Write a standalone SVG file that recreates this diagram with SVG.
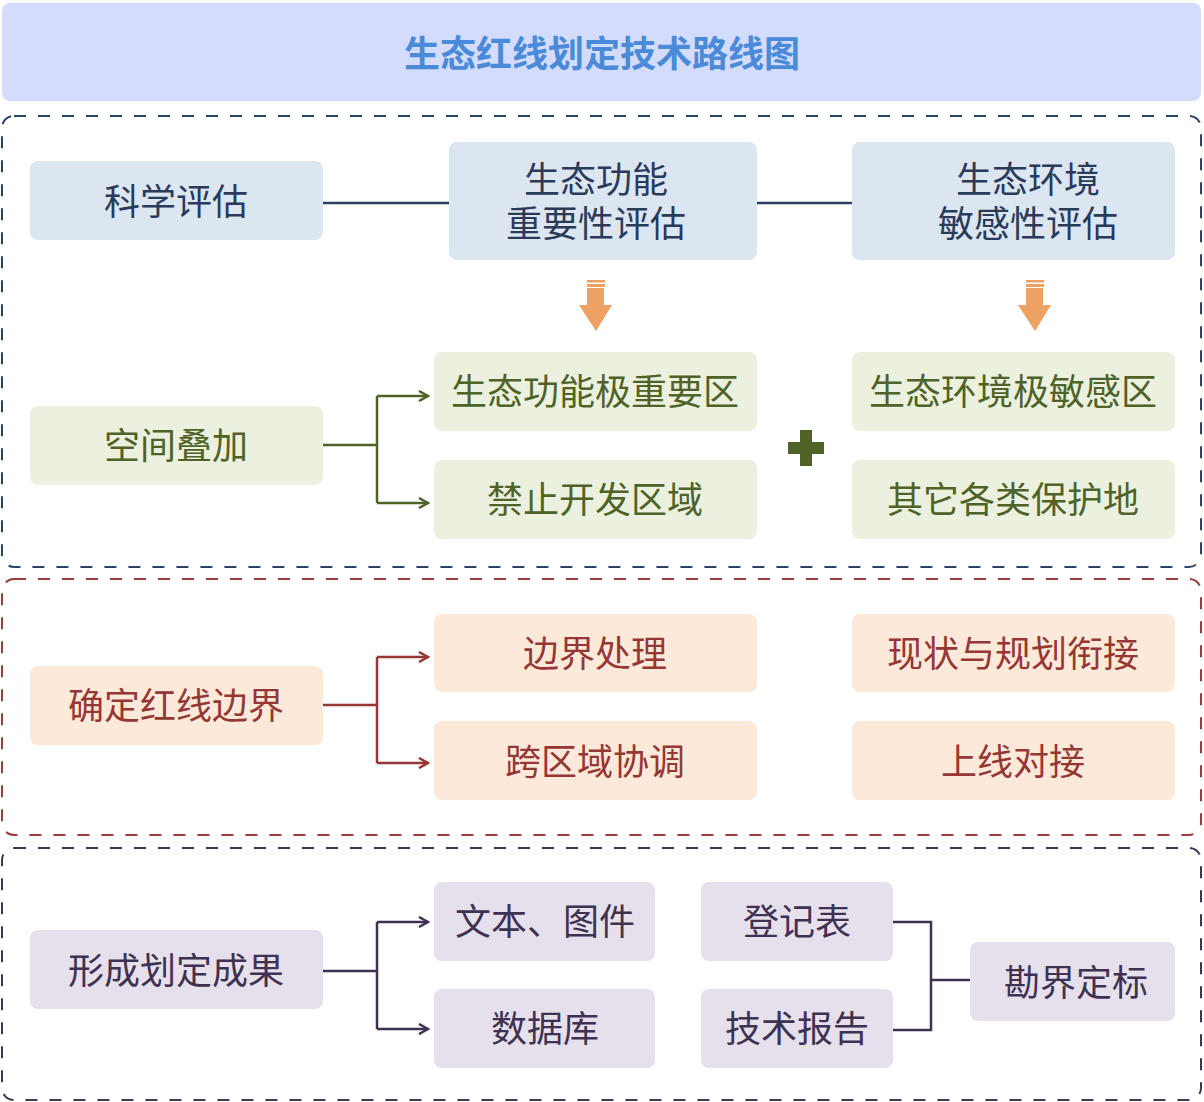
<svg xmlns="http://www.w3.org/2000/svg" width="1204" height="1102" viewBox="0 0 1204 1102">
<defs>
<style>
text{font-family:"Noto Sans CJK SC","Noto Sans CJK JP",sans-serif;font-size:36px;text-anchor:middle}
.title{font-size:36px;font-weight:bold;fill:#4a8ad8}
.blue rect{fill:#dce6f1}.blue text{fill:#2a3a5a}
.green rect{fill:#ebf1de}.green text{fill:#4f6228}
.red rect{fill:#fde9d9}.red text{fill:#953734}
.purple rect{fill:#e5e0ec}.purple text{fill:#3f3151}
.sec{fill:none;stroke-width:2;stroke-dasharray:12 12}
.c{fill:none;stroke-width:2.5}
</style>
<marker id="ag" viewBox="0 0 12 12" refX="10" refY="6" markerWidth="12" markerHeight="12" markerUnits="userSpaceOnUse" orient="auto"><path d="M1,1 L10,6 L1,11" fill="none" stroke="#4f6228" stroke-width="2.5"/></marker>
<marker id="ar" viewBox="0 0 12 12" refX="10" refY="6" markerWidth="12" markerHeight="12" markerUnits="userSpaceOnUse" orient="auto"><path d="M1,1 L10,6 L1,11" fill="none" stroke="#953734" stroke-width="2.5"/></marker>
<marker id="ap" viewBox="0 0 12 12" refX="10" refY="6" markerWidth="12" markerHeight="12" markerUnits="userSpaceOnUse" orient="auto"><path d="M1,1 L10,6 L1,11" fill="none" stroke="#3f3151" stroke-width="2.5"/></marker>
<g id="downArrow"><rect x="-9" y="0" width="18" height="2.5" fill="#eda165"/><rect x="-9" y="4" width="18" height="3" fill="#eda165"/><path d="M-9,8 H8 V25 H16 L0,51 L-17,25 H-9 Z" fill="#eda165"/></g>
</defs>
<rect width="1204" height="1102" fill="#fff"/>
<g id="title"><rect x="2" y="3" width="1199" height="98" rx="8" fill="#d3dcfd"/><text class="title" x="602" y="67">生态红线划定技术路线图</text></g>
<g id="sections">
<rect class="sec" x="2" y="116" width="1199" height="451" rx="12" stroke="#2e4466"/>
<rect class="sec" x="2" y="579" width="1199" height="256" rx="12" stroke="#9b3b3b"/>
<rect class="sec" x="2" y="848" width="1199" height="252" rx="12" stroke="#3b3a55"/>
</g>
<g id="connectors">
<path class="c" d="M323,203 H449 M757,203 H852" stroke="#2e3f5e" stroke-width="2"/>
<path class="c" d="M323,445 H377" stroke="#4f6228"/>
<path class="c" d="M377,396 V503" stroke="#4f6228"/>
<path class="c" d="M377,396 H428" stroke="#4f6228" marker-end="url(#ag)"/>
<path class="c" d="M377,503 H428" stroke="#4f6228" marker-end="url(#ag)"/>
<path class="c" d="M323,705 H377 M377,657 V763" stroke="#953734" stroke-width="2"/>
<path class="c" d="M377,657 H428" stroke="#953734" stroke-width="2" marker-end="url(#ar)"/>
<path class="c" d="M377,763 H428" stroke="#953734" stroke-width="2" marker-end="url(#ar)"/>
<path class="c" d="M323,971 H377 M377,922 V1029" stroke="#3f3151" stroke-width="2"/>
<path class="c" d="M377,922 H428" stroke="#3f3151" stroke-width="2" marker-end="url(#ap)"/>
<path class="c" d="M377,1029 H428" stroke="#3f3151" stroke-width="2" marker-end="url(#ap)"/>
<path class="c" d="M893,922 H931 V1030 H893 M931,980 H970" stroke="#3f3151"/>
<use href="#downArrow" x="596" y="280"/>
<use href="#downArrow" x="1035" y="280"/>
<path d="M800,430 H812 V442 H824 V454 H812 V466 H800 V454 H788 V442 H800 Z" fill="#4f6228"/>
</g>
<g id="n1" class="blue"><rect x="30" y="161" width="293" height="79" rx="8"/><text x="176" y="215">科学评估</text></g>
<g id="n2" class="blue"><rect x="449" y="142" width="308" height="118" rx="8"/><text x="596" y="193">生态功能<tspan x="596" dy="44">重要性评估</tspan></text></g>
<g id="n3" class="blue"><rect x="852" y="142" width="323" height="118" rx="8"/><text x="1028" y="193">生态环境<tspan x="1028" dy="44">敏感性评估</tspan></text></g>
<g id="n4" class="green"><rect x="30" y="406" width="293" height="79" rx="8"/><text x="176" y="459">空间叠加</text></g>
<g id="n5" class="green"><rect x="434" y="352" width="323" height="79" rx="8"/><text x="595" y="405">生态功能极重要区</text></g>
<g id="n6" class="green"><rect x="434" y="460" width="323" height="79" rx="8"/><text x="595" y="513">禁止开发区域</text></g>
<g id="n7" class="green"><rect x="852" y="352" width="323" height="79" rx="8"/><text x="1013" y="405">生态环境极敏感区</text></g>
<g id="n8" class="green"><rect x="852" y="460" width="323" height="79" rx="8"/><text x="1013" y="513">其它各类保护地</text></g>
<g id="n9" class="red"><rect x="30" y="666" width="293" height="79" rx="8"/><text x="176" y="719">确定红线边界</text></g>
<g id="n10" class="red"><rect x="434" y="614" width="323" height="78" rx="8"/><text x="595" y="667">边界处理</text></g>
<g id="n11" class="red"><rect x="434" y="721" width="323" height="79" rx="8"/><text x="595" y="775">跨区域协调</text></g>
<g id="n12" class="red"><rect x="852" y="614" width="323" height="78" rx="8"/><text x="1013" y="667">现状与规划衔接</text></g>
<g id="n13" class="red"><rect x="852" y="721" width="323" height="79" rx="8"/><text x="1013" y="775">上线对接</text></g>
<g id="n14" class="purple"><rect x="30" y="930" width="293" height="79" rx="8"/><text x="176" y="984">形成划定成果</text></g>
<g id="n15" class="purple"><rect x="434" y="882" width="221" height="79" rx="8"/><text x="545" y="935">文本、图件</text></g>
<g id="n16" class="purple"><rect x="434" y="989" width="221" height="79" rx="8"/><text x="545" y="1042">数据库</text></g>
<g id="n17" class="purple"><rect x="701" y="882" width="192" height="79" rx="8"/><text x="797" y="935">登记表</text></g>
<g id="n18" class="purple"><rect x="701" y="989" width="192" height="79" rx="8"/><text x="797" y="1042">技术报告</text></g>
<g id="n19" class="purple"><rect x="970" y="942" width="205" height="79" rx="8"/><text x="1076" y="996">勘界定标</text></g>
</svg>
